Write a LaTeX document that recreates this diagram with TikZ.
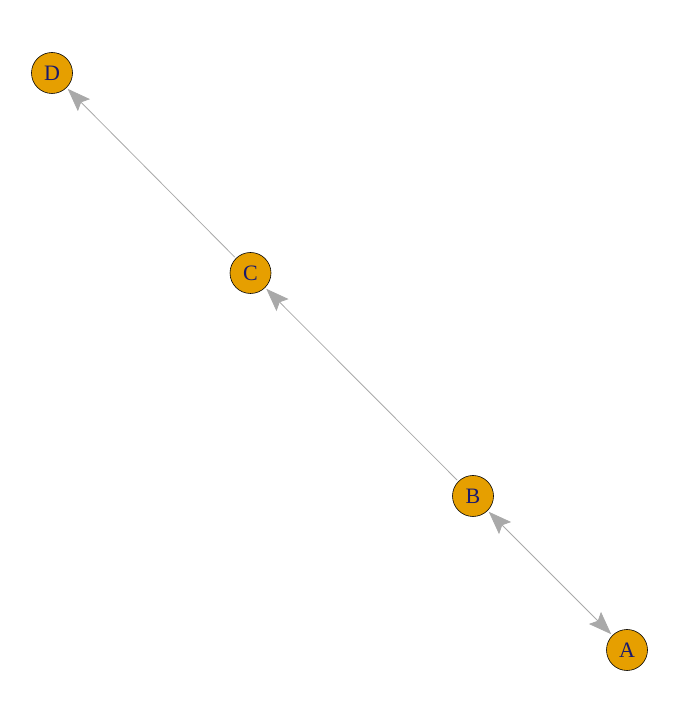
\documentclass[tikz,border=0pt]{standalone}
\usepackage{fontspec}
\setmainfont{Liberation Serif}
\usetikzlibrary{arrows.meta}
\definecolor{vfill}{HTML}{E69F00}
\definecolor{edgegray}{HTML}{A9A9A9}
\definecolor{lblue}{HTML}{1A1A6E}
\tikzset{
  vertex/.style={circle, draw=black, line width=0.6bp, fill=vfill, minimum size=41bp, inner sep=0pt, text=lblue, font=\fontsize{22bp}{24bp}\selectfont},
  edge/.style={draw=edgegray, line width=0.8bp, shorten >=1.5bp, shorten <=1.5bp},
  head/.tip={Stealth[length=23bp, width=17bp, inset=4bp, fill=edgegray]}
}
\begin{document}
\begin{tikzpicture}[x=1bp, y=1bp]
\useasboundingbox (0,0) rectangle (685,701);
\node[vertex] (D) at (52,628) {D};
\node[vertex] (C) at (250.5,428) {C};
\node[vertex] (B) at (473,205) {B};
\node[vertex] (A) at (627,51) {A};
\draw[edge, -{head}] (C) -- (D);
\draw[edge, -{head}] (B) -- (C);
\draw[edge, {head}-{head}] (B) -- (A);
\end{tikzpicture}
\end{document}
